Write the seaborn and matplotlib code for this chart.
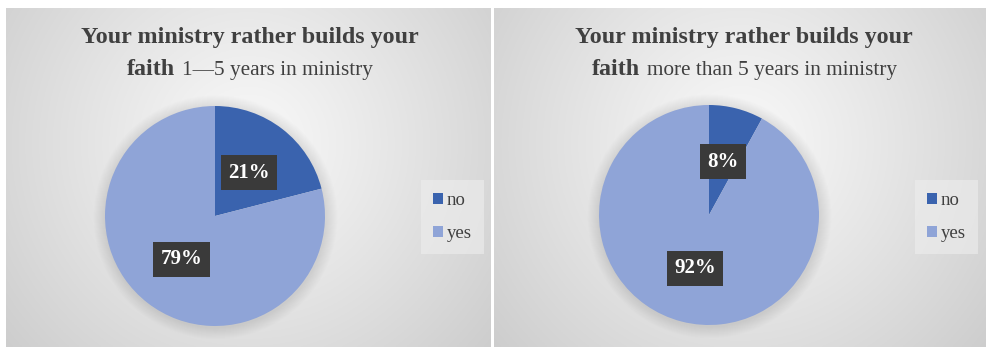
import numpy as np
import matplotlib
matplotlib.use("Agg")
import matplotlib.pyplot as plt
import seaborn as sns
from matplotlib.patches import Circle

# ---- data ----
categories = ["no", "yes"]
values_1_5 = [21, 79]
values_more5 = [8, 92]
title_bold = "Your ministry rather builds your"
title_bold2 = "faith"
subtitle_1_5 = "1\u20145 years in ministry"
subtitle_more5 = "more than 5 years in ministry"

sns.set_theme(style="white")
plt.rcParams["font.family"] = ["Liberation Serif", "DejaVu Serif"]

colors = sns.color_palette(["#3A63AE", "#8FA4D7"])
TXT = "#404040"

W, H = 987, 347
fig = plt.figure(figsize=(W / 100, H / 100), dpi=100)
fig.patch.set_facecolor("white")


def px_axes(x0, y0, x1, y1, **kw):
    # image pixel coords (top-left origin) -> figure axes
    return fig.add_axes([x0 / W, (H - y1) / H, (x1 - x0) / W, (y1 - y0) / H], **kw)


def panel_bg(x0, y0, x1, y1, cx, cy):
    ax = px_axes(x0, y0, x1, y1)
    ax.set_zorder(-5)
    nx, ny = 300, 200
    xs = np.linspace(0, 1, nx)
    ys = np.linspace(0, 1, ny)
    X, Y = np.meshgrid(xs, ys)
    aspect = (x1 - x0) / (y1 - y0)
    d = np.sqrt(((X - cx) * aspect) ** 2 + (Y - cy) ** 2)
    d = d / d.max()
    v = 0.975 - 0.17 * np.clip(d, 0, 1) ** 1.1
    img = np.dstack([v, v, v])
    ax.imshow(img, extent=[0, 1, 0, 1], origin="upper", aspect="auto")
    ax.set_axis_off()
    return ax


panel_bg(6, 8, 491, 347, 0.5, 0.40)
panel_bg(494, 8, 987, 347, 0.5, 0.40)

panels = [
    (values_1_5, subtitle_1_5, 215, 216, 250, (424, 184, 481, 250)),
    (values_more5, subtitle_more5, 709, 215, 744, (918, 184, 975, 250)),
]

fig.canvas.draw()
renderer = fig.canvas.get_renderer()

TFS = 17.3
SFS = 15.3
for vals, sub, pcx, pcy, tcx, legbox in panels:
    r = 110
    m = 20
    ax = px_axes(pcx - r - m, pcy - r - m, pcx + r + m, pcy + r + m)
    lim = (r + m) / r
    # soft shadow
    for k in range(12):
        ax.add_patch(Circle((0.005, -0.012), 1.0 + 0.009 * (k + 1), facecolor="black",
                            edgecolor="none", alpha=0.009, zorder=0))
    wedges, texts, autotexts = ax.pie(
        vals, colors=colors, startangle=90, counterclock=False,
        autopct="%1.0f%%", pctdistance=0.5, radius=1.0,
        wedgeprops=dict(linewidth=0, zorder=2),
        textprops=dict(color="white", fontsize=15, fontweight="bold"),
    )
    for t in autotexts:
        t.set_bbox(dict(boxstyle="square,pad=0.35", facecolor="#3A3A3A", edgecolor="none"))
        t.set_zorder(5)
    ax.set_xlim(-lim, lim)
    ax.set_ylim(-lim, lim)
    ax.set_aspect("equal")
    ax.set_axis_off()

    # title line 1
    fig.text(tcx / W, 1 - 38 / H, title_bold, ha="center", va="center",
             fontsize=TFS, fontweight="bold", color=TXT)
    # title line 2 (mixed weights, shared baseline)
    base = 1 - 75 / H
    tb = fig.text(0, base, title_bold2, ha="left", va="baseline",
                  fontsize=TFS, fontweight="bold", color=TXT)
    tr = fig.text(0, base, sub, ha="left", va="baseline",
                  fontsize=SFS, color=TXT)
    wb = tb.get_window_extent(renderer).width
    wr = tr.get_window_extent(renderer).width
    gap = 7
    x0 = tcx - (wb + gap + wr) / 2
    tb.set_x(x0 / W)
    tr.set_x((x0 + wb + gap) / W)

    # legend
    lx0, ly0, lx1, ly1 = legbox
    lax = px_axes(lx0, ly0, lx1, ly1)
    lax.set_axis_off()
    leg = lax.legend(wedges, categories, loc="center", frameon=True,
                     fontsize=13.5, handlelength=0.5, handleheight=0.5,
                     handletextpad=0.2, labelspacing=0.85, borderpad=0.35,
                     borderaxespad=0, labelcolor=TXT)
    leg.get_frame().set_facecolor("#EEEEEE")
    leg.get_frame().set_edgecolor("none")
    leg.get_frame().set_alpha(0.6)
    leg.get_frame().set_boxstyle("square")

fig.savefig("out.png", dpi=100)
